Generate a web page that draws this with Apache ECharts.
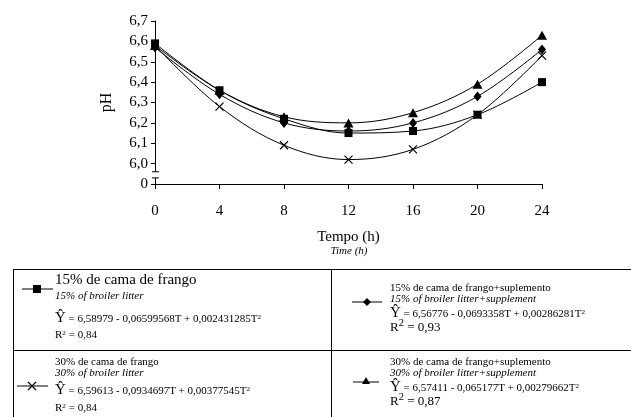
<!DOCTYPE html>
<html lang="pt">
<head>
<meta http-equiv="Content-Type" content="text/html; charset=utf-8"/>
<title>pH</title>
<script type="text/javascript" src="https://cdn.jsdelivr.net/npm/echarts@6/dist/echarts.min.js"></script>
<style>
    body { margin: 0; background: #fff; font-family: "Liberation Serif", serif; color: #000; }
    #container { position: absolute; left: 0; top: 0; width: 631px; height: 417px; }
    .t { position: absolute; white-space: nowrap; line-height: 1; }
    .i { font-style: italic; }
    .hl { position: absolute; height: 0; border-top: 1px solid #000; }
    .vl { position: absolute; width: 0; border-left: 1px solid #000; }
    sup { font-size: 65%; vertical-align: 0.45em; line-height: 0; }
</style>
<script type="text/javascript">
    // tempo (h)
    var hours = [0, 4, 8, 12, 16, 20, 24];
    // pH
    var cama15 = [6.59, 6.36, 6.22, 6.15, 6.16, 6.24, 6.40];
    var cama15sup = [6.57, 6.34, 6.20, 6.16, 6.20, 6.33, 6.56];
    var cama30 = [6.58, 6.28, 6.09, 6.02, 6.07, 6.24, 6.53];
    var cama30sup = [6.58, 6.36, 6.23, 6.20, 6.25, 6.39, 6.63];
    var names = ['15% de cama de frango', '15% de cama de frango+suplemento',
                 '30% de cama de frango', '30% de cama de frango+suplemento'];

    function pairs(ys){
        return hours.map(function(h, i){ return [h, ys[i]]; });
    }
    function serie(name, ys, symbol, size){
        return {
            name: name,
            type: 'line',
            data: pairs(ys),
            smooth: 0.35,
            symbol: symbol,
            symbolSize: size,
            lineStyle: { color: '#000', width: 1 },
            itemStyle: { color: '#000', borderColor: '#000', borderWidth: symbol.indexOf('path') === 0 ? 1.2 : 0 },
            z: 3
        };
    }

    window.onload = function(){
        var dom = document.getElementById("container");
        var myChart = echarts.init(dom);
        var option = {
            animation: false,
            textStyle: { fontFamily: 'Liberation Serif' },
            grid: { left: 155, right: 89, top: 21, bottom: 233, containLabel: false },
            xAxis: {
                type: 'value', min: 0, max: 24, interval: 4,
                name: 'Tempo (h)', nameLocation: 'middle', nameGap: 46,
                nameTextStyle: { color: '#000', fontSize: 15, fontFamily: 'Liberation Serif' },
                axisLine: { lineStyle: { color: '#000', width: 1 } },
                axisTick: { show: true, length: 5, lineStyle: { color: '#000' } },
                axisLabel: { color: '#000', fontSize: 15, margin: 20, fontFamily: 'Liberation Serif' },
                splitLine: { show: false }
            },
            yAxis: {
                type: 'value', min: 5.9, max: 6.7, interval: 0.1,
                name: 'pH', nameLocation: 'middle', nameGap: 40, nameRotate: 90,
                nameTextStyle: { color: '#000', fontSize: 16, fontFamily: 'Liberation Serif' },
                axisLine: { show: true, lineStyle: { color: '#000', width: 1 } },
                axisTick: { show: true, length: 4, lineStyle: { color: '#000' } },
                axisLabel: {
                    color: '#000', fontSize: 15, margin: 7, fontFamily: 'Liberation Serif',
                    formatter: function(v){ return v < 5.95 ? '0' : v.toFixed(1).replace('.', ','); }
                },
                splitLine: { show: false }
            },
            series: [
                serie(names[0], cama15, 'rect', 8),
                serie(names[1], cama15sup, 'diamond', [8, 10]),
                serie(names[2], cama30, 'path://M0,0L10,10M10,0L0,10', 8),
                serie(names[3], cama30sup, 'triangle', [10, 9])
            ]
        };
        myChart.setOption(option, true);

        // quebra do eixo y entre 0 e 6,0
        var x0 = myChart.convertToPixel({ gridIndex: 0 }, [0, 5.96])[0];
        var yTop = myChart.convertToPixel({ gridIndex: 0 }, [0, 5.96])[1];
        var yBot = myChart.convertToPixel({ gridIndex: 0 }, [0, 5.93])[1];
        myChart.setOption({
            graphic: [
                { type: 'rect', shape: { x: x0 - 2, y: yTop, width: 4, height: yBot - yTop },
                  style: { fill: '#fff' }, z: 10 },
                { type: 'line', shape: { x1: x0 - 3, y1: yTop, x2: x0 + 4, y2: yTop },
                  style: { stroke: '#000', lineWidth: 1 }, z: 11 },
                { type: 'line', shape: { x1: x0 - 3, y1: yBot, x2: x0 + 4, y2: yBot },
                  style: { stroke: '#000', lineWidth: 1 }, z: 11 }
            ]
        });
    };
</script>
</head>
<body>
<div id="container"></div>

<div class="t i" style="left:349px; top:245px; font-size:11px; transform:translateX(-50%);">Time (h)</div>

<!-- tabela da legenda -->
<div class="hl" style="left:13px; top:269px; width:620px;"></div>
<div class="hl" style="left:13px; top:350px; width:620px;"></div>
<div class="vl" style="left:13px; top:269px; height:150px;"></div>
<div class="vl" style="left:331px; top:269px; height:150px;"></div>

<svg style="position:absolute; left:0; top:0;" width="631" height="417">
    <line x1="22" y1="289" x2="53" y2="289" stroke="#000" stroke-width="1"/>
    <rect x="33" y="285" width="8" height="8" fill="#000"/>
    <line x1="352" y1="302" x2="382" y2="302" stroke="#000" stroke-width="1"/>
    <polygon points="367,298 371,302 367,306 363,302" fill="#000"/>
    <line x1="17" y1="386" x2="48" y2="386" stroke="#000" stroke-width="1"/>
    <path d="M28,382 L36,390 M36,382 L28,390" stroke="#000" stroke-width="1.2"/>
    <line x1="353" y1="382" x2="379" y2="382" stroke="#000" stroke-width="1"/>
    <polygon points="366,377 370,384 362,384" fill="#000"/>
</svg>

<div class="t" style="left:55px; top:272px; font-size:15px;">15% de cama de frango</div>
<div class="t i" style="left:55px; top:290px; font-size:11px;">15% of broiler litter</div>
<div class="t" style="left:55px; top:310px; font-size:11px;"><span style="font-size:15px;">Ŷ</span> = 6,58979 - 0,06599568T + 0,002431285T<sup>2</sup></div>
<div class="t" style="left:55px; top:329px; font-size:11px;">R<sup>2</sup> = 0,84</div>

<div class="t" style="left:55px; top:356px; font-size:11px;">30% de cama de frango</div>
<div class="t i" style="left:55px; top:367px; font-size:11px;">30% of broiler litter</div>
<div class="t" style="left:55px; top:382px; font-size:11px;"><span style="font-size:15px;">Ŷ</span> = 6,59613 - 0,0934697T + 0,00377545T<sup>2</sup></div>
<div class="t" style="left:55px; top:402px; font-size:11px;">R<sup>2</sup> = 0,84</div>

<div class="t" style="left:390px; top:282px; font-size:11px;">15% de cama de frango+suplemento</div>
<div class="t i" style="left:390px; top:293px; font-size:11px;">15% of broiler litter+supplement</div>
<div class="t" style="left:390px; top:305px; font-size:11px;"><span style="font-size:15px;">Ŷ</span> = 6,56776 - 0,0693358T + 0,00286281T<sup>2</sup></div>
<div class="t" style="left:390px; top:320px; font-size:13px;">R<sup style="font-size:80%;">2</sup> = 0,93</div>

<div class="t" style="left:390px; top:356px; font-size:11px;">30% de cama de frango+suplemento</div>
<div class="t i" style="left:390px; top:367px; font-size:11px;">30% of broiler litter+supplement</div>
<div class="t" style="left:390px; top:379px; font-size:11px;"><span style="font-size:15px;">Ŷ</span> = 6,57411 - 0,065177T + 0,00279662T<sup>2</sup></div>
<div class="t" style="left:390px; top:394px; font-size:13px;">R<sup style="font-size:80%;">2</sup> = 0,87</div>
</body>
</html>
